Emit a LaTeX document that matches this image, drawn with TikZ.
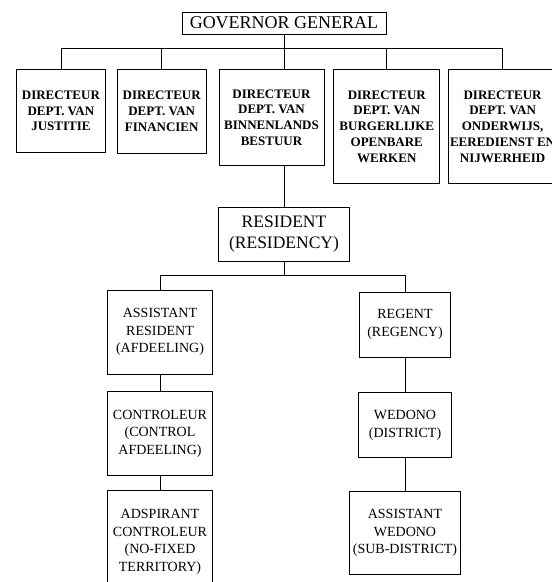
\documentclass[tikz,border=0pt]{standalone}
\usepackage{fontspec}
\setmainfont{Liberation Serif}
\usetikzlibrary{positioning}

\begin{document}
\begin{tikzpicture}[
  x=1pt, y=-1pt,
  line width=0.8pt,
  govbox/.style={draw, align=center, inner sep=1pt,
                 font=\fontsize{18}{21}\selectfont,
                 minimum width=204pt, minimum height=22pt},
  topbox/.style={draw, align=center, inner sep=1pt,
                 font=\fontsize{13}{15.7}\selectfont\bfseries},
  resbox/.style={draw, align=center, inner sep=1pt,
                 font=\fontsize{17.5}{21.7}\selectfont,
                 minimum width=131pt, minimum height=54pt},
  lowbox/.style={draw, align=center, inner sep=1pt,
                 font=\fontsize{14}{17.5}\selectfont}
]
\useasboundingbox (0,0) rectangle (552,582);

% top level
\node[govbox] (gg) at (284,23) {GOVERNOR GENERAL};

% departments
\node[topbox, minimum width=89pt, minimum height=83pt, anchor=north west] (justitie) at (16,69)
  {DIRECTEUR\\DEPT. VAN\\JUSTITIE};
\node[topbox, minimum width=89pt, minimum height=84pt, right=11pt of justitie.north east, anchor=north west] (financien)
  {DIRECTEUR\\DEPT. VAN\\FINANCIEN};
\node[topbox, minimum width=105pt, minimum height=96pt, right=12pt of financien.north east, anchor=north west] (binnenlands)
  {DIRECTEUR\\DEPT. VAN\\BINNENLANDS\\BESTUUR};
\node[topbox, minimum width=106pt, minimum height=114pt, right=9pt of binnenlands.north east, anchor=north west] (burgerlijke)
  {DIRECTEUR\\DEPT. VAN\\BURGERLIJKE\\OPENBARE\\WERKEN};
\node[topbox, minimum width=108pt, minimum height=114pt, right=8pt of burgerlijke.north east, anchor=north west] (onderwijs)
  {DIRECTEUR\\DEPT. VAN\\ONDERWIJS,\\EEREDIENST EN\\NIJWERHEID};

\coordinate[below=14pt of gg.south] (bus);
\draw (gg.south) -- (gg.south |- binnenlands.north);
\draw (justitie.north |- bus) -- (onderwijs.north |- bus);
\foreach \dept in {justitie,financien,burgerlijke,onderwijs}
  \draw (\dept.north |- bus) -- (\dept.north);

% residency
\node[resbox] (resident) at (284,234) {RESIDENT\\(RESIDENCY)};
\draw (gg.south |- binnenlands.south) -- (resident.north);

% left column
\node[lowbox, minimum width=105pt, minimum height=84pt] (asres) at (160,332)
  {ASSISTANT\\RESIDENT\\(AFDEELING)};
\node[lowbox, minimum width=105pt, minimum height=84pt, below=17pt of asres] (controleur)
  {CONTROLEUR\\(CONTROL\\AFDEELING)};
\node[lowbox, minimum width=105pt, minimum height=102pt, below=14pt of controleur] (adspirant)
  {ADSPIRANT\\CONTROLEUR\\(NO-FIXED\\TERRITORY)};

% right column
\node[lowbox, minimum width=91pt, minimum height=65pt] (regent) at (405,324.5)
  {REGENT\\(REGENCY)};
\node[lowbox, minimum width=93pt, minimum height=65pt, below=35pt of regent] (wedono)
  {WEDONO\\(DISTRICT)};
\node[lowbox, minimum width=111pt, minimum height=83pt, below=33pt of wedono] (aswedono)
  {ASSISTANT\\WEDONO\\(SUB-DISTRICT)};

\coordinate[below=14pt of resident.south] (bus2);
\draw (resident.south) -- (bus2);
\draw (asres.north |- bus2) -- (regent.north |- bus2);
\draw (asres.north |- bus2) -- (asres.north);
\draw (regent.north |- bus2) -- (regent.north);
\draw (asres) -- (controleur) -- (adspirant);
\draw (regent) -- (wedono) -- (aswedono);

\end{tikzpicture}
\end{document}
